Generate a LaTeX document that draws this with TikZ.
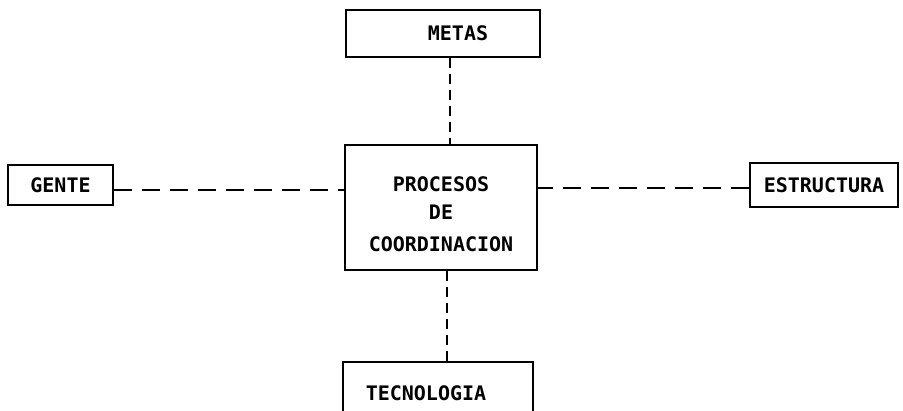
\documentclass[tikz,border=0pt]{standalone}
\usepackage{fontspec}
\setmonofont{DejaVu Sans Mono}
\usepackage{tikz}
\usetikzlibrary{positioning}

\begin{document}
\begin{tikzpicture}[
  x=1pt, y=-1pt,
  font=\ttfamily\bfseries\fontsize{20}{30}\selectfont,
  box/.style={draw, line width=2pt, align=center, inner sep=0pt},
  link/.style={line width=2pt, dash pattern=on 18pt off 10pt},
  vlink/.style={line width=2pt, dash pattern=on 10pt off 6pt},
]
  \useasboundingbox[fill=white] (0,0) rectangle (903,410);

  % central box and the four around it
  \node[box, minimum width=192pt, minimum height=125pt] (proc) at (441,207.5)
    {\rule{0pt}{29pt}PROCESOS\\[-2pt]DE\\[2pt]COORDINACION};
  \node[box, minimum width=194pt, minimum height=47pt] (metas) at (443,33.5)
    {\hspace*{30pt}METAS};
  \node[box, minimum width=105pt, minimum height=40pt] (gente) at (60.5,185) {GENTE};
  \node[box, minimum width=148pt, minimum height=44pt] (estr) at (824,185) {ESTRUCTURA};
  \node[box, minimum width=190pt, minimum height=62pt] (tecno) at (438,393)
    {TECNOLOGIA\hspace*{24pt}};

  % dashed links
  \draw[vlink] ([xshift=7pt]metas.south) -- ([xshift=7pt]metas.south |- proc.north);
  \draw[vlink] ([xshift=6pt]proc.south) -- ([xshift=6pt]proc.south |- tecno.north);
  \draw[link] ([yshift=-5pt]gente.east) -- ([yshift=-5pt]gente.east -| proc.west);
  \draw[link] ([yshift=-3pt]estr.west) -- ([yshift=-3pt]estr.west -| proc.east);
\end{tikzpicture}
\end{document}
